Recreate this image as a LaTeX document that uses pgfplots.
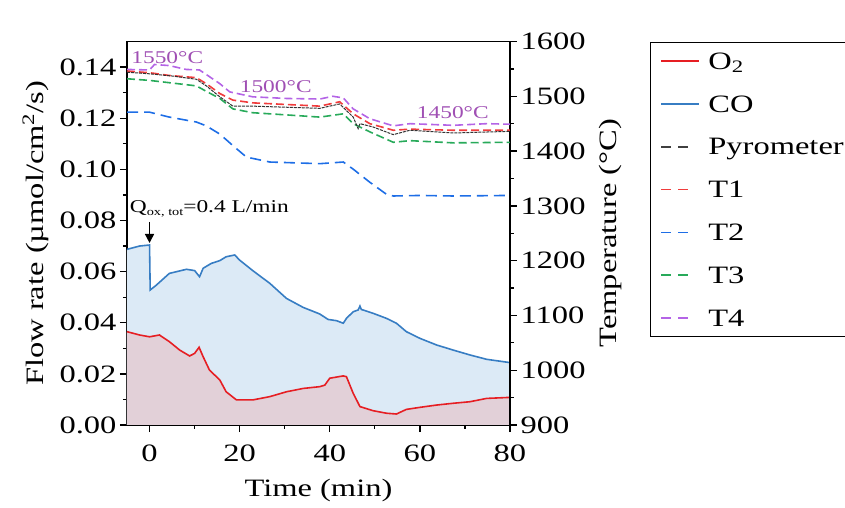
\documentclass[border=0pt]{standalone}
\usepackage{fontspec}
\setmainfont{Liberation Serif}[FakeStretch=1.3]
\usepackage{pgfplots}
\pgfplotsset{compat=1.18}
\usetikzlibrary{arrows.meta}
\definecolor{cO2}{RGB}{230,30,35}
\definecolor{cCO}{RGB}{55,125,195}
\definecolor{fCO}{RGB}{220,234,246}
\definecolor{fO2}{RGB}{226,208,216}
\definecolor{cT1}{RGB}{240,60,60}
\definecolor{cT2}{RGB}{30,110,230}
\definecolor{cT3}{RGB}{40,170,90}
\definecolor{cT4}{RGB}{180,100,230}
\definecolor{cAnn}{RGB}{160,80,180}
\begin{document}
\begin{tikzpicture}
\useasboundingbox (0pt,0pt) rectangle (845pt,508pt);
\pgfplotsset{
  common/.style={
    at={(127pt,83pt)}, anchor=south west, scale only axis,
    width=383pt, height=383.5pt,
    xmin=-5, xmax=80,
    tick align=outside,
    major tick length=7pt, minor tick length=4pt,
    axis line style={line width=1.3pt},
    every tick/.style={black, line width=1.3pt},
    /pgf/number format/assume math mode=true,
    ticklabel style={font=\fontsize{25}{30}\selectfont},
    label style={font=\fontsize{25}{30}\selectfont},
  }
}
\begin{axis}[common,
  ymin=0, ymax=0.15,
  xtick={0,20,40,60,80}, minor x tick num=1,
  ytick={0,0.02,0.04,0.06,0.08,0.10,0.12,0.14}, minor y tick num=1,
  xtick pos=bottom, ytick pos=left,
  xticklabel style={yshift=-9pt},
  yticklabel style={/pgf/number format/.cd, fixed, fixed zerofill, precision=2},
  xlabel={Time (min)},
  xlabel style={at={(axis description cs:0.5,-0.187)}, anchor=base},
  ylabel={Flow rate (µmol/cm\textsuperscript{2}/s)},
  ylabel style={at={(axis description cs:-0.219,0.5)}, anchor=base},
]
% CO fill
\addplot[fill=fCO, draw=none, forget plot] coordinates {
(-5,0.0687) (-2.2,0.0700) (0,0.0704) (0.15,0.0528) (1.5,0.0547) (4.4,0.0593) (8.2,0.0609) (10,0.0604) (11.1,0.0580) (11.9,0.0613) (13.7,0.0632) (15.6,0.0643) (17,0.0658) (18.9,0.0665) (20,0.0645) (22.9,0.0604) (26.7,0.0554) (30.4,0.0495) (34.1,0.0460) (37.8,0.0434) (39.6,0.0413) (41.5,0.0408) (43,0.0398) (43.7,0.0417) (45.2,0.0443) (46.3,0.0450) (46.7,0.0465) (47,0.0452) (49.6,0.0437) (52.6,0.0417) (54.8,0.0398) (57,0.0365) (60,0.0339) (63.7,0.0313) (67.4,0.0293) (71.1,0.0274) (74.8,0.0257) (80,0.0244)
} \closedcycle;
% O2 fill
\addplot[fill=fO2, draw=none, forget plot] coordinates {
(-5,0.0365) (-2.2,0.0352) (0,0.0345) (2.2,0.0352) (4.4,0.0326) (6.7,0.0293) (8.9,0.0270) (10,0.0280) (11,0.0304) (11.9,0.0267) (13.3,0.0215) (15.6,0.0176) (17,0.0130) (19.3,0.0098) (22.9,0.0098) (26.7,0.0111) (30.4,0.0130) (34.1,0.0143) (37.8,0.0150) (38.9,0.0156) (40,0.0183) (43,0.0192) (43.7,0.0189) (45.2,0.0124) (46.7,0.0072) (49.6,0.0056) (52.6,0.0046) (54.8,0.0043) (57,0.0061) (60,0.0069) (63.7,0.0078) (67.4,0.0085) (71.1,0.0091) (74.8,0.0104) (80,0.0108)
} \closedcycle;
% CO line
\addplot[cCO, line width=1.6pt, forget plot] coordinates {
(-5,0.0687) (-2.2,0.0700) (0,0.0704) (0.15,0.0528) (1.5,0.0547) (4.4,0.0593) (8.2,0.0609) (10,0.0604) (11.1,0.0580) (11.9,0.0613) (13.7,0.0632) (15.6,0.0643) (17,0.0658) (18.9,0.0665) (20,0.0645) (22.9,0.0604) (26.7,0.0554) (30.4,0.0495) (34.1,0.0460) (37.8,0.0434) (39.6,0.0413) (41.5,0.0408) (43,0.0398) (43.7,0.0417) (45.2,0.0443) (46.3,0.0450) (46.7,0.0465) (47,0.0452) (49.6,0.0437) (52.6,0.0417) (54.8,0.0398) (57,0.0365) (60,0.0339) (63.7,0.0313) (67.4,0.0293) (71.1,0.0274) (74.8,0.0257) (80,0.0244)
};
% O2 line
\addplot[cO2, line width=1.6pt, forget plot] coordinates {
(-5,0.0365) (-2.2,0.0352) (0,0.0345) (2.2,0.0352) (4.4,0.0326) (6.7,0.0293) (8.9,0.0270) (10,0.0280) (11,0.0304) (11.9,0.0267) (13.3,0.0215) (15.6,0.0176) (17,0.0130) (19.3,0.0098) (22.9,0.0098) (26.7,0.0111) (30.4,0.0130) (34.1,0.0143) (37.8,0.0150) (38.9,0.0156) (40,0.0183) (43,0.0192) (43.7,0.0189) (45.2,0.0124) (46.7,0.0072) (49.6,0.0056) (52.6,0.0046) (54.8,0.0043) (57,0.0061) (60,0.0069) (63.7,0.0078) (67.4,0.0085) (71.1,0.0091) (74.8,0.0104) (80,0.0108)
};
\node[anchor=base west, inner sep=0pt, font=\fontsize{18}{22}\selectfont] at (axis cs:-4.4,0.0833) {Q\raisebox{-0.45ex}{\fontsize{11}{13}\selectfont ox, tot}=0.4 L/min};
\draw[-{Triangle[width=9pt,length=9pt]}, line width=1.5pt] (axis cs:0,0.0794) -- (axis cs:0,0.0712);
\end{axis}

\begin{axis}[common,
  ymin=900, ymax=1600,
  axis x line=none, axis y line*=right,
  ytick={900,1000,1100,1200,1300,1400,1500,1600}, minor y tick num=1,
  yticklabel style={/pgf/number format/1000 sep={}},
  ylabel={Temperature (°C)},
  ylabel style={at={(axis description cs:1.279,0.5)}, anchor=base},
  legend image code/.code={\draw[#1] (0pt,0pt) -- (38pt,0pt);},
  legend style={at={(axis description cs:1.3655,0.9987)}, anchor=north west,
    draw=black, line width=1.2pt, inner xsep=10pt, inner ysep=5.6pt,
    font=\fontsize{25}{30}\selectfont, row sep=17.6pt, column sep=8pt,
    nodes={inner sep=0pt, text height=21pt, text depth=4.3pt}},
  legend cell align=left,
]
\addlegendimage{legend image code/.code={\draw[cO2,line width=1.8pt] (0pt,0pt) -- (38pt,0pt);}}\addlegendentry{O\textsubscript{2}}
\addlegendimage{legend image code/.code={\draw[cCO,line width=1.8pt] (0pt,0pt) -- (38pt,0pt);}}\addlegendentry{CO}
\addlegendimage{legend image code/.code={\draw[black!75,line width=1.8pt,dash pattern=on 10pt off 7pt] (0pt,0pt) -- (27pt,0pt);}}\addlegendentry{Pyrometer}
\addlegendimage{legend image code/.code={\draw[cT1,line width=1.8pt,dash pattern=on 10pt off 7pt] (0pt,0pt) -- (27pt,0pt);}}\addlegendentry{T1}
\addlegendimage{legend image code/.code={\draw[cT2,line width=1.8pt,dash pattern=on 10pt off 7pt] (0pt,0pt) -- (27pt,0pt);}}\addlegendentry{T2}
\addlegendimage{legend image code/.code={\draw[cT3,line width=1.8pt,dash pattern=on 10pt off 7pt] (0pt,0pt) -- (27pt,0pt);}}\addlegendentry{T3}
\addlegendimage{legend image code/.code={\draw[cT4,line width=1.8pt,dash pattern=on 10pt off 7pt] (0pt,0pt) -- (27pt,0pt);}}\addlegendentry{T4}
% T2
\addplot[cT2, line width=1.6pt, dash pattern=on 11pt off 6pt, forget plot] coordinates {
(-5,1471) (0,1471) (4.4,1462) (10.4,1453) (12.6,1446) (15.6,1431) (18.5,1410) (21.5,1389) (26.7,1380) (34.1,1378) (37.8,1377) (43,1380) (45.2,1367) (48.9,1343) (52.6,1321) (54.1,1318) (60,1319) (67.4,1318) (80,1319)
};
% T3
\addplot[cT3, line width=1.6pt, dash pattern=on 8pt off 4pt, forget plot] coordinates {
(-5,1532) (0,1529) (10.4,1519) (12.6,1509) (15.6,1496) (18.5,1477) (22.9,1470) (30.4,1466) (37.8,1462) (43,1468) (45.2,1450) (48.9,1435) (54.1,1416) (57.8,1419) (67.4,1415) (80,1416)
};
% T4
\addplot[cT4, line width=1.6pt, dash pattern=on 8pt off 4pt, forget plot] coordinates {
(-5,1549) (0,1548) (1.1,1558) (4.4,1556) (8.1,1549) (11.1,1548) (15.6,1523) (17.8,1508) (22.9,1499) (30.4,1496) (37.8,1495) (40.7,1500) (43,1497) (45.2,1477) (48.9,1459) (54.1,1446) (57.8,1450) (67.4,1447) (74.8,1450) (80,1449)
};
% T1
\addplot[cT1, line width=1.6pt, dash pattern=on 8pt off 4pt, forget plot] coordinates {
(-5,1546) (0,1543) (4.4,1538) (10.4,1534) (12.6,1523) (15.6,1505) (18.5,1493) (22.9,1488) (30.4,1485) (37.8,1482) (42.2,1490) (45.2,1468) (48.9,1450) (54.1,1438) (57.8,1440) (67.4,1438) (80,1438)
};
% Pyrometer
\addplot[black!80, line width=1pt, dash pattern=on 3pt off 1pt, forget plot] coordinates {
(-5,1544) (0,1541) (5,1537) (10.4,1531) (12.6,1519) (15.6,1499) (18.5,1482) (22.9,1482) (30.4,1480) (37.8,1478) (42.2,1486) (45.2,1462) (46.3,1441) (46.7,1450) (49.6,1444) (54.1,1430) (57.8,1438) (67.4,1433) (80,1436)
};
\node[anchor=base west, inner sep=0pt, text=cAnn, font=\fontsize{18}{22}\selectfont] at (axis cs:-4.07,1560) {1550°C};
\node[anchor=base west, inner sep=0pt, text=cAnn, font=\fontsize{18}{22}\selectfont] at (axis cs:20,1506) {1500°C};
\node[anchor=base west, inner sep=0pt, text=cAnn, font=\fontsize{18}{22}\selectfont] at (axis cs:59.3,1460) {1450°C};
\end{axis}
\end{tikzpicture}
\end{document}
